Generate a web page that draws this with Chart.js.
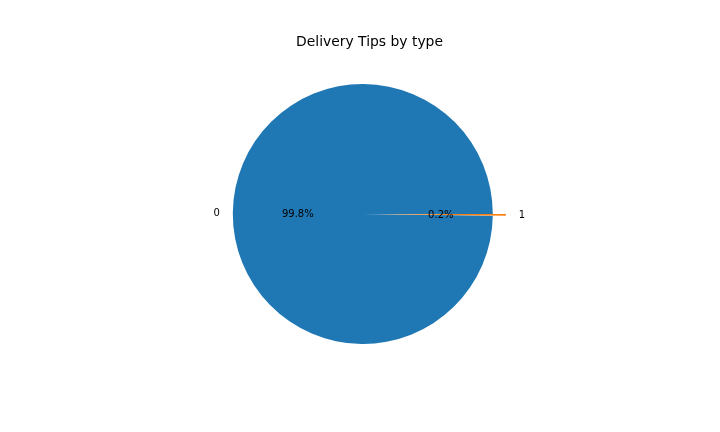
<!DOCTYPE html>
<html>
<head>
<meta charset="utf-8">
<script src="https://cdn.jsdelivr.net/npm/chart.js@4/dist/chart.umd.min.js"></script>
<style>
  html, body { margin: 0; padding: 0; background: #ffffff; }
  #wrap { width: 720px; height: 432px; position: relative; }
</style>
</head>
<body>
<div id="wrap"><canvas id="c" width="720" height="432"></canvas></div>
<script>
const categories = ["0", "1"];
const shares = [99.8, 0.2];
const pctLabels = ["99.8%", "0.2%"];
const explode = [0, 0.1];
const sliceColors = ["#1f77b4", "#ff7f0e"];
const chartTitle = "Delivery Tips by type";

const pieRadius = 130;
const total = shares.reduce((a, b) => a + b, 0);
const startRotation = 90 - 360 * shares[0] / total;

function midOf(arc) {
  const p = arc.getProps(['x', 'y', 'startAngle', 'endAngle', 'outerRadius'], true);
  p.mid = (p.startAngle + p.endAngle) / 2;
  return p;
}

// Exploded slices are drawn shifted by explode * radius (like matplotlib), same size
const explodePlugin = {
  id: 'explode',
  beforeDatasetsDraw(chart) {
    const meta = chart.getDatasetMeta(0);
    meta.data.forEach((arc, i) => { arc.hidden = explode[i] > 0; });
  },
  afterDatasetsDraw(chart) {
    const ctx = chart.ctx;
    const meta = chart.getDatasetMeta(0);
    meta.data.forEach((arc, i) => {
      if (!(explode[i] > 0)) return;
      const p = midOf(arc);
      const off = explode[i] * p.outerRadius;
      ctx.save();
      ctx.translate(Math.cos(p.mid) * off, Math.sin(p.mid) * off);
      arc.draw(ctx, chart.chartArea);
      ctx.restore();
    });
  }
};

const labelPlugin = {
  id: 'mplLabels',
  afterDraw(chart) {
    const ctx = chart.ctx;
    const meta = chart.getDatasetMeta(0);
    ctx.save();
    ctx.fillStyle = '#000000';
    ctx.textBaseline = 'middle';
    ctx.font = '10px "DejaVu Sans"';
    meta.data.forEach((arc, i) => {
      const p = midOf(arc);
      const mid = p.mid;
      const off = explode[i] * p.outerRadius;
      const cx = p.x + Math.cos(mid) * off;
      const cy = p.y + Math.sin(mid) * off + 0.8;
      ctx.textAlign = 'center';
      ctx.fillText(pctLabels[i], cx + Math.cos(mid) * p.outerRadius * 0.5, cy + Math.sin(mid) * p.outerRadius * 0.5);
      const lx = cx + Math.cos(mid) * p.outerRadius * 1.1;
      const ly = cy + Math.sin(mid) * p.outerRadius * 1.1;
      ctx.textAlign = Math.cos(mid) < 0 ? 'right' : 'left';
      ctx.fillText(categories[i], lx, ly);
    });
    ctx.font = '13.9px "DejaVu Sans"';
    ctx.textAlign = 'center';
    ctx.textBaseline = 'alphabetic';
    ctx.fillText(chartTitle, 369.5, 46);
    ctx.restore();
  }
};

new Chart(document.getElementById('c'), {
  type: 'pie',
  data: {
    labels: categories,
    datasets: [{
      data: shares,
      backgroundColor: sliceColors,
      borderWidth: 0
    }]
  },
  options: {
    responsive: false,
    animation: false,
    events: [],
    rotation: startRotation,
    radius: pieRadius,
    layout: { padding: { left: 5.6, right: 0, top: 0, bottom: 4 } },
    plugins: {
      legend: { display: false },
      tooltip: { enabled: false },
      title: { display: false }
    }
  },
  plugins: [explodePlugin, labelPlugin]
});
</script>
</body>
</html>
